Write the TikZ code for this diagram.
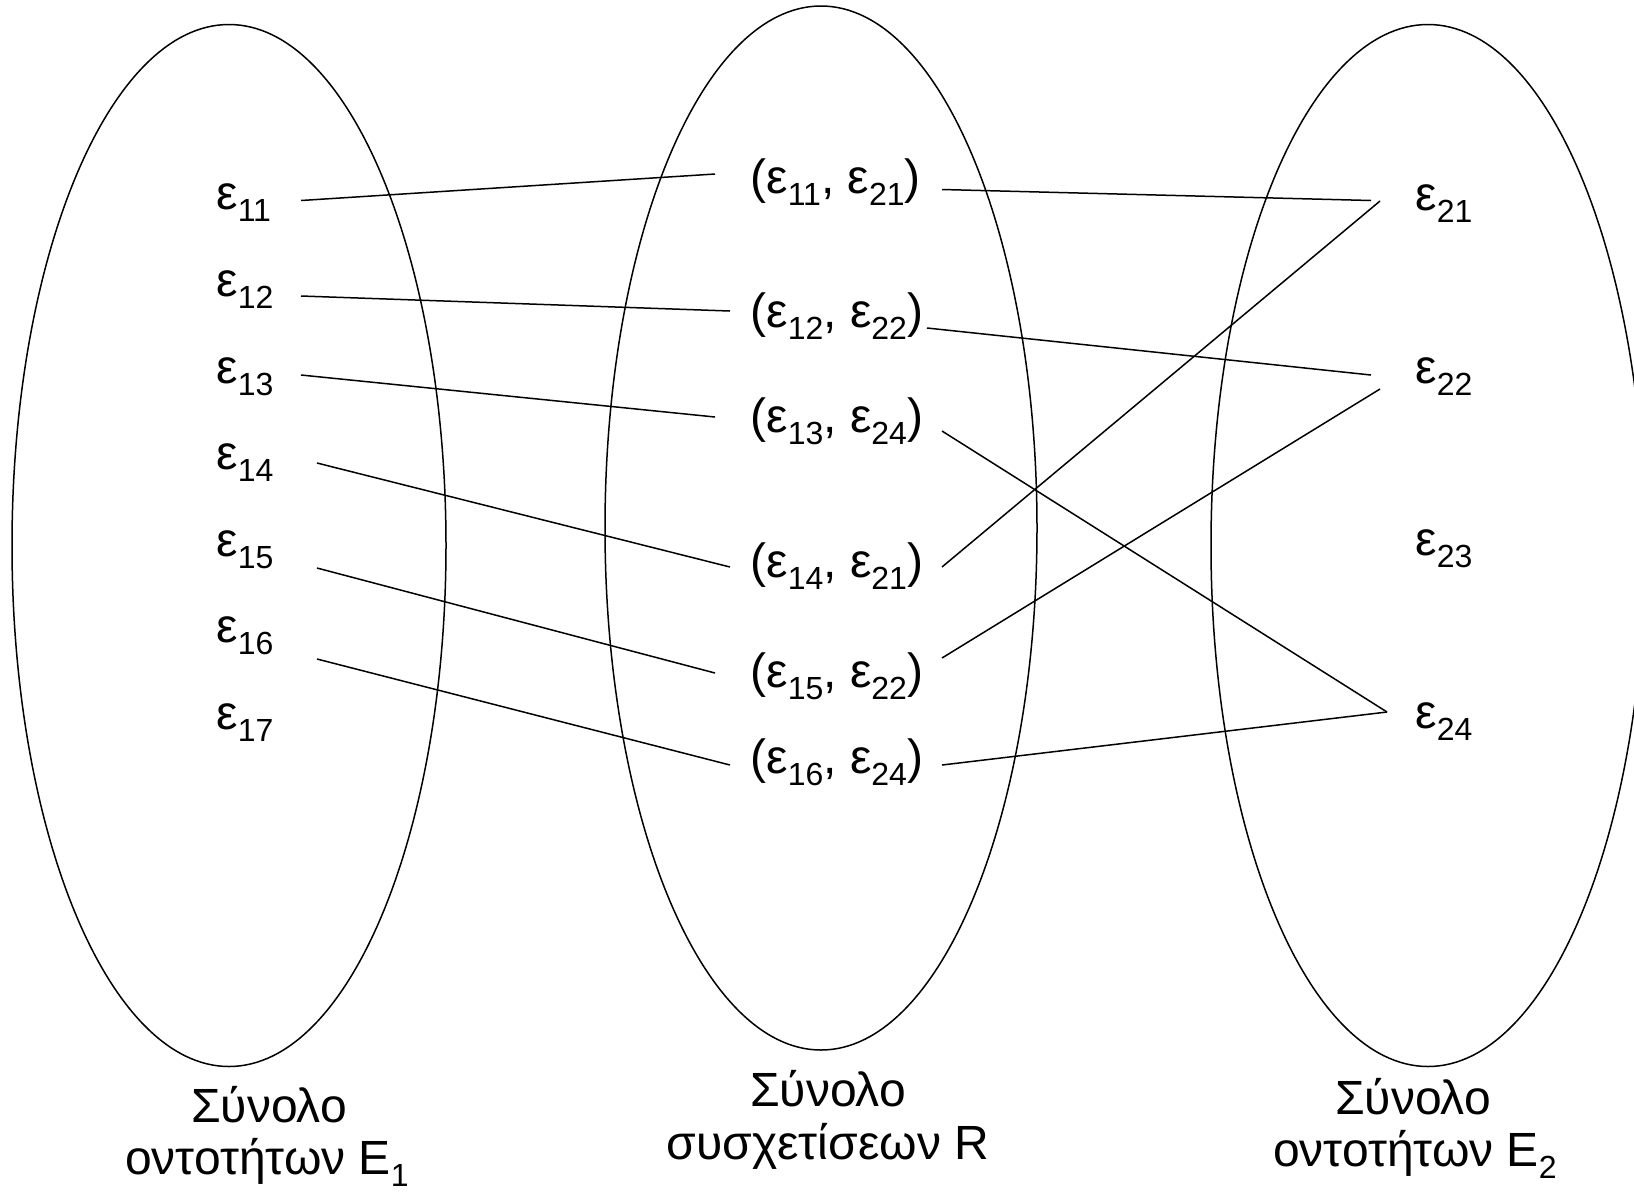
\documentclass[tikz,border=0pt]{standalone}
\usepackage{fontspec}
\setmainfont{Liberation Sans}
\newcommand{\ep}[1]{ε\raisebox{-0.26em}{\fontsize{16pt}{16pt}\selectfont #1}}
\newcommand{\subidx}[1]{\raisebox{-0.26em}{\fontsize{16pt}{16pt}\selectfont #1}}
\begin{document}
\begin{tikzpicture}[x=0.5pt,y=-0.5pt,
  lab/.style={inner sep=0pt, font=\fontsize{24pt}{28pt}\selectfont},
  setline/.style={line width=0.75pt},
  link/.style={line width=0.75pt}]
\useasboundingbox (0,0) rectangle (1634,1191);
% sets
\draw[setline] (229,545.5) ellipse [x radius=108.5pt, y radius=260.5pt];
\draw[setline] (821,528) ellipse [x radius=108pt, y radius=261pt];
\draw[setline] (1428,545.5) ellipse [x radius=108.5pt, y radius=260.5pt];
% left labels
\node[lab,anchor=base west] (a1) at (216,209) {\ep{11}};
\node[lab,anchor=base west] (a2) at (216,296) {\ep{12}};
\node[lab,anchor=base west] (a3) at (216,383) {\ep{13}};
\node[lab,anchor=base west] (a4) at (216,469) {\ep{14}};
\node[lab,anchor=base west] (a5) at (216,556) {\ep{15}};
\node[lab,anchor=base west] (a6) at (216,642) {\ep{16}};
\node[lab,anchor=base west] (a7) at (216,729) {\ep{17}};
% middle labels
\node[lab,anchor=base west] (m1) at (750,193) {(\ep{11}, \ep{21})};
\node[lab,anchor=base west] (m2) at (750,327) {(\ep{12}, \ep{22})};
\node[lab,anchor=base west] (m3) at (750,432) {(\ep{13}, \ep{24})};
\node[lab,anchor=base west] (m4) at (750,577) {(\ep{14}, \ep{21})};
\node[lab,anchor=base west] (m5) at (750,687) {(\ep{15}, \ep{22})};
\node[lab,anchor=base west] (m6) at (750,773) {(\ep{16}, \ep{24})};
% right labels
\node[lab,anchor=base west] (b1) at (1415,210) {\ep{21}};
\node[lab,anchor=base west] (b2) at (1415,383) {\ep{22}};
\node[lab,anchor=base west] (b3) at (1415,555) {\ep{23}};
\node[lab,anchor=base west] (b4) at (1415,728) {\ep{24}};
% connector ends
\coordinate (a1r) at (301,200.5);
\coordinate (a2r) at (301,296);
\coordinate (a3r) at (301,375);
\coordinate (a4r) at (317,463);
\coordinate (a5r) at (317,568);
\coordinate (a6r) at (317,659);
\coordinate (m1l) at (715,174);
\coordinate (m2l) at (730,311);
\coordinate (m3l) at (715,417);
\coordinate (m4l) at (730,567);
\coordinate (m5l) at (715,673);
\coordinate (m6l) at (730,765);
\coordinate (m1r) at (942,189.5);
\coordinate (m2r) at (927,328);
\coordinate (m3r) at (942,431);
\coordinate (m4r) at (942,567);
\coordinate (m5r) at (942,658);
\coordinate (m6r) at (942,765);
\coordinate (b1a) at (1371,200.5);
\coordinate (b1b) at (1380,201);
\coordinate (b2a) at (1371,375);
\coordinate (b2b) at (1380,389);
\coordinate (b4a) at (1387,712);
% connectors
\draw[link] (a1r) -- (m1l);
\draw[link] (a2r) -- (m2l);
\draw[link] (a3r) -- (m3l);
\draw[link] (a4r) -- (m4l);
\draw[link] (a5r) -- (m5l);
\draw[link] (a6r) -- (m6l);
\draw[link] (m1r) -- (b1a);
\draw[link] (m2r) -- (b2a);
\draw[link] (m3r) -- (b4a);
\draw[link] (m4r) -- (b1b);
\draw[link] (m5r) -- (b2b);
\draw[link] (m6r) -- (b4a);
% captions
\node[lab,anchor=base] (cL1) at (269,1122) {Σύνολο};
\node[lab,anchor=base] (cL2) at (267,1174) {οντοτήτων E\subidx{1}};
\node[lab,anchor=base] (cM1) at (828,1106) {Σύνολο};
\node[lab,anchor=base] (cM2) at (828,1159) {συσχετίσεων R};
\node[lab,anchor=base] (cR1) at (1413,1114) {Σύνολο};
\node[lab,anchor=base] (cR2) at (1415,1166) {οντοτήτων E\subidx{2}};
\end{tikzpicture}
\end{document}
